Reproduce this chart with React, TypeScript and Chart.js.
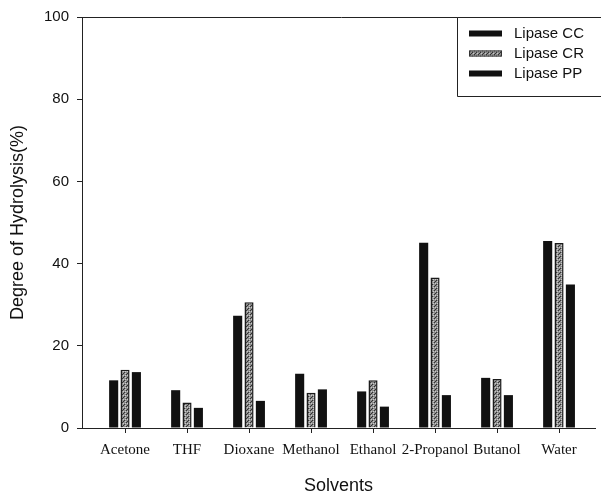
import React, { useEffect, useRef } from "react";
import { Chart, registerables } from "chart.js";

Chart.register(...registerables);

const categories = ["Acetone", "THF", "Dioxane", "Methanol", "Ethanol", "2-Propanol", "Butanol", "Water"];
const lipaseCC = [11.6, 9.2, 27.3, 13.2, 8.9, 45.1, 12.2, 45.5];
const lipaseCR = [14.2, 6.2, 30.6, 8.6, 11.6, 36.6, 11.9, 45.0];
const lipasePP = [13.6, 4.9, 6.6, 9.4, 5.2, 8.0, 8.0, 34.9];
const yTicks = [0, 20, 40, 60, 80, 100];
const seriesLabels = ["Lipase CC", "Lipase CR", "Lipase PP"];

function makePattern(): CanvasPattern | string {
  const c = document.createElement("canvas");
  c.width = 4;
  c.height = 4;
  const g = c.getContext("2d");
  if (!g) return "#888";
  g.fillStyle = "#8a8a8a";
  g.fillRect(0, 0, 4, 4);
  g.fillStyle = "#333333";
  g.fillRect(0, 0, 1, 1);
  g.fillRect(2, 2, 1, 1);
  g.fillRect(3, 1, 1, 1);
  g.fillStyle = "#c8c8c8";
  g.fillRect(1, 1, 1, 1);
  g.fillRect(3, 3, 1, 1);
  g.fillRect(1, 3, 1, 1);
  const p = g.createPattern(c, "repeat");
  return p || "#888";
}

export default function App() {
  const ref = useRef<HTMLCanvasElement | null>(null);

  useEffect(() => {
    if (!ref.current) return;
    const pattern = makePattern();
    const fills: (string | CanvasPattern)[] = ["#111111", pattern, "#111111"];
    const borders = ["#111111", "#1a1a1a", "#111111"];

    const framePlugin = {
      id: "frameLegend",
      afterDraw(chart: any) {
        const { ctx, chartArea } = chart;
        ctx.save();
        ctx.strokeStyle = "#222";
        ctx.lineWidth = 1;
        const bx = 457.5;
        const by = chartArea.top + 0.5;
        const bb = 96.5;
        ctx.beginPath();
        ctx.moveTo(chartArea.left, by);
        ctx.lineTo(601, by);
        ctx.stroke();
        ctx.fillStyle = "#fff";
        ctx.fillRect(bx, by, 601 - bx, bb - by);
        ctx.beginPath();
        ctx.moveTo(bx, by);
        ctx.lineTo(bx, bb);
        ctx.lineTo(601, bb);
        ctx.moveTo(bx, by);
        ctx.lineTo(601, by);
        ctx.stroke();
        ctx.font = "15px 'Liberation Sans', Arial, sans-serif";
        ctx.textBaseline = "middle";
        ctx.textAlign = "left";
        const rows = [33.5, 53.5, 73.5];
        seriesLabels.forEach((lab, i) => {
          ctx.fillStyle = fills[i] as any;
          ctx.fillRect(469, rows[i] - 3, 33, 6);
          if (i === 1) {
            ctx.strokeStyle = "#333";
            ctx.strokeRect(469.5, rows[i] - 2.5, 32, 5);
          }
          ctx.fillStyle = "#111";
          ctx.fillText(lab, 514, rows[i]);
        });
        ctx.restore();
      },
    };

    const chart = new Chart(ref.current, {
      type: "bar",
      data: {
        datasets: [lipaseCC, lipaseCR, lipasePP].map((arr, i) => ({
          label: seriesLabels[i],
          data: arr.map((v, k) => ({ x: k, y: v })),
          backgroundColor: fills[i] as any,
          borderColor: borders[i],
          borderWidth: i === 1 ? 1.5 : 0,
          barPercentage: 0.8,
          categoryPercentage: 0.55,
        })),
      },
      options: {
        animation: false,
        responsive: false,
        maintainAspectRatio: false,
        layout: { padding: { top: 15, right: 6, left: 0, bottom: 0 } },
        plugins: {
          legend: { display: false },
          tooltip: { enabled: false },
        },
        scales: {
          x: {
            type: "linear",
            offset: false,
            min: -0.694,
            max: 7.58,
            afterBuildTicks: (scale: any) => {
              scale.ticks = categories.map((_, i) => ({ value: i }));
            },
            afterFit: (scale: any) => {
              scale.height = 69;
            },
            ticks: {
              autoSkip: false,
              maxRotation: 0,
              padding: 8,
              color: "#111",
              font: { family: "'Liberation Serif', 'Times New Roman', serif", size: 15 },
              callback: (v: any) => categories[Math.round(Number(v))] ?? "",
            },
            grid: {
              display: true,
              offset: false,
              drawOnChartArea: false,
              drawTicks: true,
              tickLength: 5,
              color: "#222",
            },
            border: { display: true, color: "#222", width: 1 },
            title: {
              display: true,
              text: "Solvents",
              color: "#111",
              font: { family: "'Liberation Sans', Arial, sans-serif", size: 18 },
              padding: { top: 0, bottom: 0 },
            },
          },
          y: {
            min: 0,
            max: 100,
            afterBuildTicks: (scale: any) => {
              scale.ticks = yTicks.map((v) => ({ value: v }));
            },
            afterFit: (scale: any) => {
              scale.width = 82;
            },
            ticks: {
              padding: 8,
              color: "#111",
              font: { family: "'Liberation Sans', Arial, sans-serif", size: 15 },
            },
            grid: {
              display: true,
              drawOnChartArea: false,
              drawTicks: true,
              tickLength: 5,
              color: "#222",
            },
            border: { display: true, color: "#222", width: 1 },
            title: {
              display: true,
              text: "Degree of Hydrolysis(%)",
              color: "#111",
              font: { family: "'Liberation Sans', Arial, sans-serif", size: 18 },
              padding: { top: 7, bottom: 0 },
            },
          },
        },
      },
      plugins: [framePlugin],
    });
    return () => chart.destroy();
  }, []);

  return (
    <div style={{ position: "absolute", left: 0, top: 0, width: 601, height: 497, background: "#fff" }}>
      <canvas ref={ref} width={601} height={497} style={{ display: "block" }} />
    </div>
  );
}
